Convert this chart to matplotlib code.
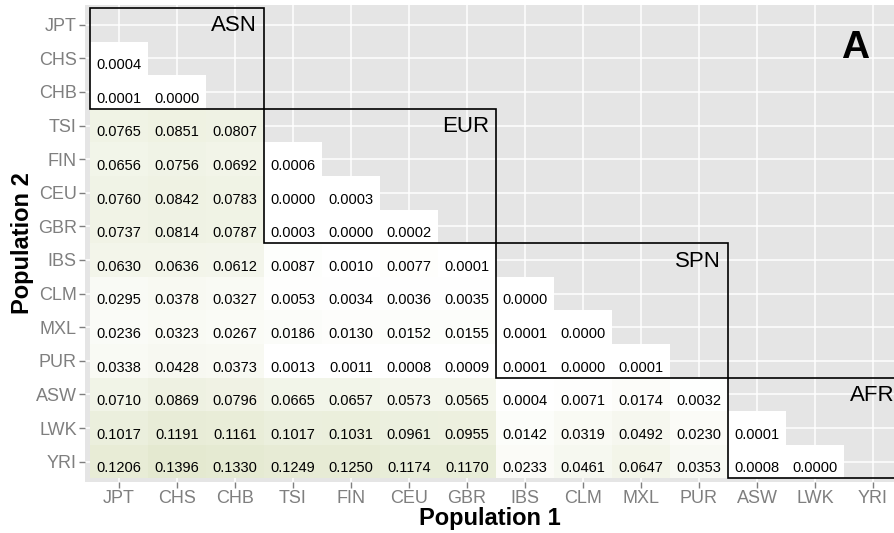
import numpy as np
import matplotlib.pyplot as plt
import matplotlib.patches as patches
from matplotlib.colors import LinearSegmentedColormap

plt.rcParams['font.family'] = ['Liberation Sans', 'DejaVu Sans']

pops = ["JPT", "CHS", "CHB", "TSI", "FIN", "CEU", "GBR",
        "IBS", "CLM", "MXL", "PUR", "ASW", "LWK", "YRI"]

# pairwise Fst, lower triangle, one list per row (Population 2)
fst_rows = [
    [],
    [0.0004],
    [0.0001, 0.0000],
    [0.0765, 0.0851, 0.0807],
    [0.0656, 0.0756, 0.0692, 0.0006],
    [0.0760, 0.0842, 0.0783, 0.0000, 0.0003],
    [0.0737, 0.0814, 0.0787, 0.0003, 0.0000, 0.0002],
    [0.0630, 0.0636, 0.0612, 0.0087, 0.0010, 0.0077, 0.0001],
    [0.0295, 0.0378, 0.0327, 0.0053, 0.0034, 0.0036, 0.0035, 0.0000],
    [0.0236, 0.0323, 0.0267, 0.0186, 0.0130, 0.0152, 0.0155, 0.0001, 0.0000],
    [0.0338, 0.0428, 0.0373, 0.0013, 0.0011, 0.0008, 0.0009, 0.0001, 0.0000, 0.0001],
    [0.0710, 0.0869, 0.0796, 0.0665, 0.0657, 0.0573, 0.0565, 0.0004, 0.0071, 0.0174, 0.0032],
    [0.1017, 0.1191, 0.1161, 0.1017, 0.1031, 0.0961, 0.0955, 0.0142, 0.0319, 0.0492, 0.0230, 0.0001],
    [0.1206, 0.1396, 0.1330, 0.1249, 0.1250, 0.1174, 0.1170, 0.0233, 0.0461, 0.0647, 0.0353, 0.0008, 0.0000],
]

# continental groups: name, first index, last index
groups = [("ASN", 0, 2), ("EUR", 3, 6), ("SPN", 7, 10), ("AFR", 11, 13)]

cmap = LinearSegmentedColormap.from_list("fst", ["#ffffff", "#e4e9d0"])
vmax = 0.14

fig = plt.figure(figsize=(8.95, 5.33), dpi=100)
W, H = 895, 533
left, right, top, bottom = 85, 895, 5, 482
ax = fig.add_axes([left / W, 1 - bottom / H, (right - left) / W, (bottom - top) / H])
ax.set_facecolor("#e5e5e5")

cw, ch = 58.0, 33.6
ax.set_xlim(-0.5 - 5 / cw, -0.5 + (right - 90) / cw)
ax.set_ylim(-0.5 + (bottom - 8) / ch, -0.5 - 3 / ch)

# grid through the cell centres
for i in range(len(pops)):
    ax.axvline(i, color="white", lw=1.1, zorder=0.5)
    ax.axhline(i, color="white", lw=1.1, zorder=0.5)

# tiles and value labels
for r, row in enumerate(fst_rows):
    for c, v in enumerate(row):
        ax.add_patch(patches.Rectangle((c - 0.5, r - 0.5), 1, 1,
                                       facecolor=cmap(min(v / vmax, 1)),
                                       edgecolor="none", zorder=1))
        ax.text(c, r + 0.2, f"{v:.4f}", ha="center", va="center",
                fontsize=10.5, color="black", zorder=3)

# group boxes
for name, a, b in groups:
    ax.add_patch(patches.Rectangle((a - 0.5, a - 0.5), b - a + 1, b - a + 1,
                                   fill=False, edgecolor="black", lw=1.2,
                                   zorder=4, clip_on=True))
    ax.text(b + 0.38, a - 0.5 + 0.22, name, ha="right", va="top",
            fontsize=16, color="black", zorder=5)

ax.text(12.69, 0.7, "A", ha="center", va="center", fontsize=28,
        fontweight="bold", zorder=5)

ax.set_xticks(range(len(pops)))
ax.set_xticklabels(pops)
ax.set_yticks(range(len(pops)))
ax.set_yticklabels(pops)
ax.tick_params(axis="both", colors="#7f7f7f", labelcolor="#7f7f7f",
               labelsize=13, length=4, width=1, pad=2)
for s in ax.spines.values():
    s.set_visible(False)

ax.set_xlabel("Population 1", fontsize=17, fontweight="bold", labelpad=0)
ax.set_ylabel("Population 2", fontsize=17, fontweight="bold", labelpad=1)

fig.savefig("out.png", dpi=100)
